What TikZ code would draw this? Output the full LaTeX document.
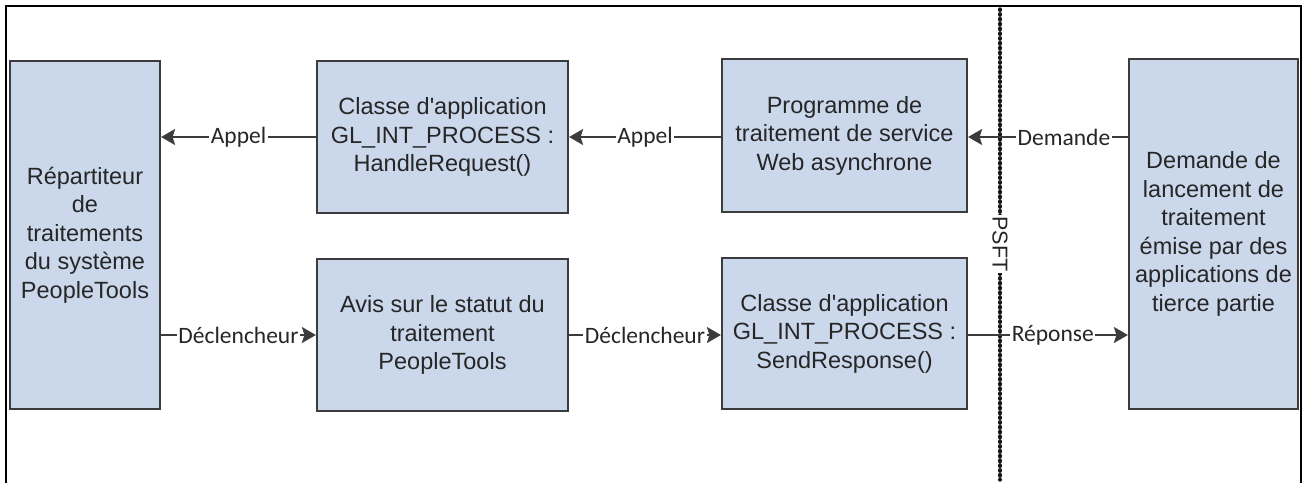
\documentclass[tikz,border=0pt]{standalone}
\usepackage{fontspec}
\setmainfont{Liberation Sans}
\newfontfamily\lblfont{Carlito}
\usetikzlibrary{arrows.meta}
\definecolor{boxfill}{HTML}{CBD8EC}
\definecolor{boxline}{HTML}{3C3C3C}
\definecolor{txt}{HTML}{262626}
\newcommand{\apos}{\textquotesingle}
\begin{document}
\begin{tikzpicture}[x=1pt,y=-1pt,
  box/.style={draw=boxline, line width=2.2pt, fill=boxfill, align=center, text=txt,
    font=\fontsize{23.5}{28.5}\selectfont, inner sep=0pt},
  conn/.style={draw=boxline, line width=1.9pt, -{Stealth[length=14pt,width=16pt,inset=2.5pt]}},
  lbl/.style={fill=white, inner sep=1.5pt, text=txt, font=\lblfont\fontsize{23.5}{28}\selectfont},
  sep/.style={draw=black!90, line width=3.4pt, line cap=round, dash pattern=on 1.4pt off 3.4pt}
]
\useasboundingbox (0,0) rectangle (1309,483);
\draw[line width=2.2pt] (6,483) -- (6,6) -- (1301,6) -- (1301,483);

\coordinate (septop) at (1000,9);
\coordinate (sepbot) at (1000,480);
\draw[sep] (septop) -- (sepbot);
\node[fill=white, inner sep=2pt, text=txt, rotate=-90, font=\fontsize{21.5}{26}\selectfont] (psft) at (1000,244) {PSFT};

\node[box, minimum width=150, minimum height=348] (A) at (85,235)
  {Répartiteur\\de\\traitements\\du système\\PeopleTools};
\node[box, minimum width=251, minimum height=152] (B) at (442.5,137)
  {Classe d\apos application\\GL\_INT\_PROCESS :\\HandleRequest()};
\node[box, minimum width=251, minimum height=152] (C) at (442.5,335)
  {Avis sur le statut du\\traitement\\PeopleTools};
\node[box, minimum width=245, minimum height=153] (D) at (844.5,135.5)
  {Programme de\\traitement de service\\Web asynchrone};
\node[box, minimum width=245, minimum height=151] (E) at (844.5,333.5)
  {Classe d\apos application\\GL\_INT\_PROCESS :\\SendResponse()};
\node[box, minimum width=169, minimum height=350] (F) at (1213.5,234)
  {Demande de\\lancement de\\traitement\\émise par des\\applications de\\tierce partie};

\draw[conn] (B.west) -- node[lbl] {Appel} (A.east |- B.west);
\draw[conn] (D.west |- B.east) -- node[lbl] {Appel} (B.east);
\draw[conn] (F.west |- B.east) -- node[lbl, pos=0.4] {Demande} (D.east |- B.east);
\draw[conn] (A.east |- C.west) -- node[lbl] {Déclencheur} (C.west);
\draw[conn] (C.east) -- node[lbl] {Déclencheur} (E.west |- C.east);
\draw[conn] (E.east |- C.east) -- node[lbl, pos=0.53] {Réponse} (F.west |- C.east);
\end{tikzpicture}
\end{document}
